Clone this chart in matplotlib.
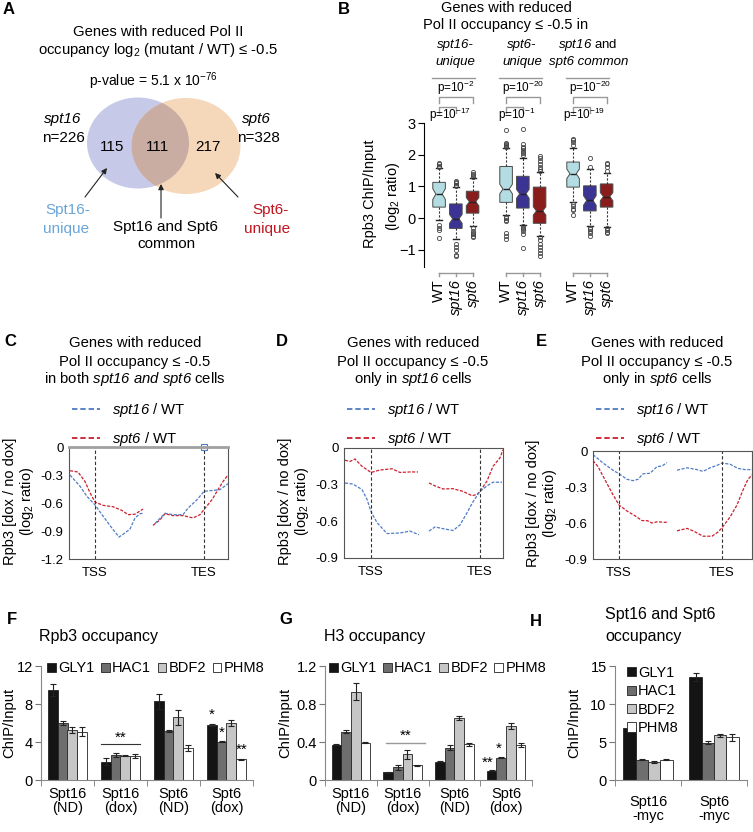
import numpy as np
import matplotlib
matplotlib.use('Agg')
import matplotlib.pyplot as plt
from matplotlib.patches import Ellipse, Patch
from matplotlib.lines import Line2D

plt.rcParams['font.family'] = 'Liberation Sans'
plt.rcParams['mathtext.fontset'] = 'custom'
plt.rcParams['mathtext.rm'] = 'Liberation Sans'
plt.rcParams['mathtext.it'] = 'Liberation Sans:italic'
# italic face under \mathsf so digits stay italic too
plt.rcParams['mathtext.sf'] = 'Liberation Sans:italic'
plt.rcParams['mathtext.bf'] = 'Liberation Sans:bold'
plt.rcParams['font.size'] = 10

W, H = 753, 832

# ---------------- data ----------------
# A: Venn
venn_names = ['spt16', 'spt6']
venn_totals = [226, 328]
venn_counts = [115, 111, 217]   # spt16-only, common, spt6-only
venn_pexp = -76

# B: boxplot stats, per group [WT, spt16, spt6]
box_groups = ['spt16-unique', 'spt6-unique', 'common']
box_strains = ['WT', 'spt16', 'spt6']
box_q1 = [[0.35, -0.32, 0.16], [0.50, 0.32, -0.16], [0.98, 0.23, 0.35]]
box_med = [[0.76, -0.02, 0.52], [0.92, 0.77, 0.23], [1.40, 0.56, 0.68]]
box_q3 = [[1.13, 0.45, 0.85], [1.63, 1.32, 0.98], [1.77, 1.02, 1.08]]
box_whislo = [[-0.07, -0.66, -0.26], [0.10, -0.20, -0.55], [0.50, -0.25, -0.28]]
box_whishi = [[1.58, 0.98, 1.26], [2.20, 1.90, 1.45], [2.22, 1.55, 1.42]]
box_notch = [[0.17, 0.14, 0.13], [0.15, 0.14, 0.13], [0.15, 0.15, 0.13]]
box_fliers = [
    [[1.62, 1.66, 1.70, 1.74, -0.21, -0.32, -0.37, -0.63],
     [1.02, 1.06, 1.10, 1.14, 1.18, -0.80, -0.90, -1.00, -1.15, -1.20],
     [1.30, 1.35, 1.40, 1.45, -0.30, -0.40, -0.45, -0.50, -0.55, -0.60]],
    [[2.24, 2.27, 2.30, 2.33, 2.36, 2.78, 0.05, 0.0, -0.05, -0.10, -0.45, -0.55, -0.65],
     [2.00, 2.05, 2.10, 2.15, 2.20, 2.25, 2.35, 2.80, -0.25, -0.30, -0.35, -0.40, -0.50, -0.95],
     [1.50, 1.55, 1.60, 1.70, 1.80, 1.90, 1.95, -0.60, -0.70, -0.80, -0.90, -1.00, -1.10, -1.20]],
    [[2.30, 2.40, 2.45, 2.50, 0.45, 0.40, 0.30, 0.25, 0.10],
     [1.60, 1.90, -0.30, -0.35, -0.40, -0.45, -0.55],
     [1.50, 1.60, 1.70, 1.75, -0.32, -0.38, -0.42, -0.48]],
]
box_p_wt_spt6 = [-2, -20, -20]
box_p_wt_spt16 = [-17, -1, -19]

# C-E: metagene profiles (bin position, log2 ratio), TSS segment and TES segment
C_spt16 = [[(1, -0.30), (11, -0.42), (18, -0.53), (26, -0.62), (34, -0.74), (43, -0.87), (50, -0.965),
            (56, -0.92), (61, -0.88), (66, -0.76), (71, -0.715), (74, -0.71)],
           [(86, -0.82), (96, -0.71), (104, -0.725), (114, -0.725), (119, -0.655), (128, -0.565),
            (135, -0.475), (144, -0.465), (151, -0.457), (159, -0.393)]]
C_spt6 = [[(1, -0.254), (9, -0.268), (16, -0.37), (21, -0.49), (26, -0.59), (34, -0.625), (44, -0.64),
           (53, -0.68), (59, -0.725), (66, -0.72), (74, -0.665)],
          [(84, -0.84), (91, -0.78), (96, -0.715), (104, -0.735), (114, -0.735), (124, -0.76), (131, -0.725),
           (135, -0.67), (143, -0.565), (149, -0.457), (154, -0.37), (159, -0.30)]]
D_spt16 = [[(1, -0.286), (9, -0.295), (18, -0.34), (23, -0.42), (27, -0.52), (33, -0.61), (43, -0.70),
            (56, -0.695), (66, -0.68), (75, -0.71)],
           [(85, -0.68), (91, -0.646), (99, -0.66), (109, -0.675), (116, -0.63), (123, -0.53), (129, -0.44),
            (136, -0.355), (143, -0.31), (149, -0.28), (158, -0.28)]]
D_spt6 = [[(1, -0.10), (6, -0.11), (11, -0.09), (18, -0.15), (27, -0.20), (36, -0.18), (48, -0.17),
           (56, -0.20), (66, -0.196), (74, -0.196)],
          [(85, -0.286), (91, -0.31), (99, -0.335), (109, -0.333), (119, -0.355), (128, -0.39), (133, -0.38),
           (136, -0.355), (143, -0.27), (149, -0.15), (156, -0.08), (159, -0.014)]]
E_spt16 = [[(0, -0.03), (10, -0.10), (20, -0.16), (26, -0.19), (34, -0.236), (40, -0.247), (45, -0.236),
            (50, -0.19), (57, -0.186), (64, -0.13), (69, -0.125), (74, -0.097)],
           [(84, -0.16), (94, -0.14), (104, -0.155), (110, -0.17), (117, -0.14), (124, -0.12), (129, -0.10),
            (137, -0.11), (145, -0.145), (152, -0.155), (159, -0.155)]]
E_spt6 = [[(0, -0.08), (5, -0.13), (12, -0.24), (19, -0.35), (26, -0.45), (34, -0.50), (42, -0.54),
           (49, -0.58), (54, -0.58), (59, -0.60), (64, -0.59), (74, -0.595)],
          [(84, -0.665), (94, -0.645), (100, -0.665), (110, -0.71), (119, -0.71), (125, -0.675), (129, -0.64),
           (137, -0.55), (144, -0.45), (150, -0.325), (155, -0.236), (159, -0.20)]]
tss_tes = {'C': (26, 135), 'D': (27, 136), 'E': (26, 129)}

# F-H: ChIP bar charts, rows = conditions, cols = genes
genes = ['GLY1', 'HAC1', 'BDF2', 'PHM8']
rpb3_cond = ['Spt16\n(ND)', 'Spt16\n(dox)', 'Spt6\n(ND)', 'Spt6\n(dox)']
rpb3_mean = [[9.47, 6.03, 5.26, 5.09], [1.93, 2.60, 2.56, 2.53], [8.30, 5.20, 6.60, 3.40], [5.79, 4.03, 6.03, 2.17]]
rpb3_err = [[0.60, 0.20, 0.35, 0.50], [0.40, 0.20, 0.05, 0.20], [0.80, 0.10, 0.80, 0.30], [0.10, 0.05, 0.30, 0.05]]
h3_cond = rpb3_cond
h3_mean = [[0.37, 0.51, 0.93, 0.39], [0.08, 0.133, 0.27, 0.154], [0.19, 0.34, 0.656, 0.375], [0.098, 0.235, 0.57, 0.365]]
h3_err = [[0.005, 0.02, 0.09, 0.005], [0.005, 0.03, 0.045, 0.005], [0.005, 0.025, 0.02, 0.015], [0.005, 0.005, 0.03, 0.02]]
myc_cond = ['Spt16\n-myc', 'Spt6\n-myc']
myc_mean = [[6.87, 2.67, 2.40, 2.67], [13.55, 4.90, 5.89, 5.60]]
myc_err = [[0.45, 0.05, 0.10, 0.05], [0.50, 0.20, 0.20, 0.50]]

# ---------------- styles ----------------
gene_colors = ['#141414', '#6e6e6e', '#c6c6c6', 'white']
bar_offsets = [-0.28, -0.093, 0.093, 0.28]
bar_w = 0.187
box_colors = ['#b3dde3', '#3c3494', '#8b1c1c']
c_blue = '#4f7cc4'
c_red = '#cc1f2e'

fig = plt.figure(figsize=(W / 100, H / 100), dpi=100)
ov = fig.add_axes([0, 0, 1, 1])
ov.set_xlim(0, W)
ov.set_ylim(H, 0)
ov.axis('off')


def add_ax(l, t, r, b):
    return fig.add_axes([l / W, 1 - b / H, (r - l) / W, (b - t) / H])


def txt(x, y, s, **kw):
    kw.setdefault('ha', 'center')
    kw.setdefault('va', 'center')
    ov.text(x, y, s, **kw)


# ---------------- A ----------------
txt(3, 10, 'A', ha='left', fontsize=12, fontweight='bold')
txt(158, 32, 'Genes with reduced Pol II', fontsize=10.7)
txt(158, 50, 'occupancy log$_2$ (mutant / WT) ≤ -0.5', fontsize=10.7)
txt(153, 81, 'p-value = 5.1 x 10$^{%d}$' % venn_pexp, fontsize=10)
left = Ellipse((138, 143), 102, 91, fc='#c6cae8', ec='none')
right = Ellipse((186, 146), 109, 96, fc='#f5d7ba', ec='none')
ov.add_patch(left)
ov.add_patch(right)
mid = Ellipse((186, 146), 109, 96, fc='#c9ada3', ec='none')
ov.add_patch(mid)
mid.set_clip_path(left)
txt(63, 119, venn_names[0], fontsize=11, style='italic')
txt(63, 138, 'n=%d' % venn_totals[0], fontsize=11)
txt(256, 119, venn_names[1], fontsize=11, style='italic')
txt(258, 138, 'n=%d' % venn_totals[1], fontsize=11)
for xc, n in zip([112, 158, 208], venn_counts):
    txt(xc, 147, str(n), fontsize=11)
arrow = dict(arrowstyle='-|>', color='#222', lw=0.8, mutation_scale=8, shrinkA=0, shrinkB=0)
ov.annotate('', xy=(107, 168), xytext=(85, 197), arrowprops=arrow)
ov.annotate('', xy=(161, 184), xytext=(161, 218), arrowprops=arrow)
ov.annotate('', xy=(215, 173), xytext=(238, 197), arrowprops=arrow)
txt(68, 210, 'Spt16-', fontsize=11, color='#6aa5d8')
txt(66, 229, 'unique', fontsize=11, color='#6aa5d8')
txt(270, 210, 'Spt6-', fontsize=11, color='#c0141e')
txt(267, 229, 'unique', fontsize=11, color='#c0141e')
txt(166, 227, 'Spt16 and Spt6', fontsize=11)
txt(166, 244, 'common', fontsize=11)

# ---------------- B ----------------
txt(338, 10, 'B', ha='left', fontsize=12, fontweight='bold')
txt(506, 8, 'Genes with reduced', fontsize=10.5)
txt(506, 25, 'Pol II occupancy ≤ -0.5 in', fontsize=10.5)
txt(455, 45, 'spt16-', fontsize=9.5, style='italic')
txt(455, 62, 'unique', fontsize=9.5, style='italic')
txt(522, 45, 'spt6-', fontsize=9.5, style='italic')
txt(522, 62, 'unique', fontsize=9.5, style='italic')
txt(588, 45, r'$\mathsf{spt16}$ and', fontsize=9.5)
txt(589, 62, 'spt6 common', fontsize=9.5, style='italic')
txt(370, 194, 'Rpb3 ChIP/Input', rotation=90, fontsize=10.5)
txt(393, 196, '(log$_2$ ratio)', rotation=90, fontsize=10.5)

axB = add_ax(424, 123, 620, 269)
stats = []
positions = []
for g in range(3):
    for i in range(3):
        m = box_med[g][i]
        stats.append(dict(med=m, q1=box_q1[g][i], q3=box_q3[g][i],
                          whislo=box_whislo[g][i], whishi=box_whishi[g][i],
                          fliers=np.array(box_fliers[g][i]),
                          cilo=m - box_notch[g][i], cihi=m + box_notch[g][i]))
        positions.append(g * 4 + i + 1)
bp = axB.bxp(stats, positions=positions, widths=0.75, shownotches=True, patch_artist=True,
             boxprops=dict(edgecolor='#4a4a4a', lw=0.7),
             whiskerprops=dict(ls=(0, (2, 1.5)), color='#333', lw=0.8),
             capprops=dict(color='#222', lw=1.0),
             medianprops=dict(color='#222', lw=1.0),
             flierprops=dict(marker='o', mfc='none', mec='#444', ms=3, mew=0.6),
             capwidths=0.35)
for k, patch in enumerate(bp['boxes']):
    patch.set_facecolor(box_colors[k % 3])
axB.set_xlim(0.1, 11.8)
axB.set_ylim(-1.6, 3.0)
axB.set_yticks([-1, 0, 1, 2, 3])
axB.set_xticks([])
for s in ['top', 'right', 'bottom']:
    axB.spines[s].set_visible(False)
axB.spines['left'].set_bounds(-1.55, 3.0)
axB.tick_params(axis='y', labelsize=10.5, length=4, pad=2)
for g in range(3):
    p0, p1, p2 = g * 4 + 1, g * 4 + 2, g * 4 + 3
    kw = dict(color='#999', lw=1, clip_on=False)
    axB.plot([p0 - 0.4, p2 + 0.15], [4.42, 4.42], **kw)
    axB.plot([p0, p0, p2, p2], [3.63, 3.82, 3.82, 3.63], **kw)
    axB.plot([p0, p0, p1, p1], [3.31, 3.50, 3.50, 3.31], **kw)
    axB.text(p1, 4.10, 'p=10$^{%d}$' % box_p_wt_spt6[g], ha='center', va='center', fontsize=8.5, clip_on=False)
    axB.text(p1 - 0.35, 3.26, 'p=10$^{%d}$' % box_p_wt_spt16[g], ha='center', va='center', fontsize=8.5,
             clip_on=False)
    axB.plot([p0, p2], [-1.72, -1.72], **kw)
    for p in (p0, p1, p2):
        axB.plot([p, p], [-1.72, -1.82], **kw)
    for p, s in zip((p0, p1, p2), box_strains):
        axB.text(p, -1.92, s, rotation=90, ha='center', va='top', fontsize=10.5,
                 style='normal' if s == 'WT' else 'italic', clip_on=False)


# ---------------- C-E ----------------
def profile(letter, box, spt16, spt6, ylo, yticks, ylab_x, lx, title3):
    l, t, r, b = box
    ax = add_ax(l, t, r, b)
    tss, tes = tss_tes[letter]
    for series, col in ((spt6, c_red), (spt16, c_blue)):
        for seg in series:
            xs = [p[0] for p in seg]
            ys = [p[1] for p in seg]
            ax.plot(xs, ys, color=col, lw=0.9, ls=(0, (2.5, 1.2)))
    ax.axvline(tss, color='#333', lw=0.8, ls=(0, (3, 2)))
    ax.axvline(tes, color='#333', lw=0.8, ls=(0, (3, 2)))
    ax.set_xlim(0, 159)
    ax.set_ylim(ylo, 0)
    ax.set_yticks(yticks)
    ax.set_yticklabels(['0' if v == 0 else '%.1f' % v for v in yticks])
    ax.set_xticks([tss, tes])
    ax.set_xticklabels(['TSS', 'TES'])
    ax.tick_params(length=0, labelsize=9.5)
    ax.tick_params(axis='x', pad=6)
    ax.tick_params(axis='y', pad=4)
    for s in ax.spines.values():
        s.set_color('#555')
        s.set_linewidth(0.8)
    txt(lx, 342, letter, ha='left', fontsize=12, fontweight='bold')
    tcx = {'C': 135, 'D': 413, 'E': 657}[letter]
    txt(tcx, 343, 'Genes with reduced', fontsize=10.7)
    txt(tcx, 362, 'Pol II occupancy ≤ -0.5', fontsize=10.7)
    txt(tcx, 379, title3, fontsize=10.7)
    txt(ylab_x, (t + b) / 2 - 2, 'Rpb3 [dox / no dox]', rotation=90, fontsize=10.5)
    txt(ylab_x + 17, (t + b) / 2 - 2, '(log$_2$ ratio)', rotation=90, fontsize=10.5)
    handles = [Line2D([], [], color=c_blue, lw=1.3, ls=(0, (3, 1.6))),
               Line2D([], [], color=c_red, lw=1.3, ls=(0, (3, 1.6)))]
    ax.legend(handles, [r'$\mathsf{spt16}$ / WT', r'$\mathsf{spt6}$ / WT'], loc='upper left',
              bbox_to_anchor=(l + 3, 401), bbox_transform=ov.transData, frameon=False,
              borderpad=0, borderaxespad=0, handlelength=1.9, handletextpad=0.8,
              labelspacing=0.75, fontsize=10.7)
    return ax


axC = profile('C', (69, 447, 228, 559), C_spt16, C_spt6, -1.2, [0, -0.3, -0.6, -0.9, -1.2], 10, 4,
              r'in both $\mathsf{spt16\ and\ spt6}$ cells')
axC.spines['top'].set_color('#a0a0a0')
axC.spines['top'].set_linewidth(2)
axC.plot([tss_tes['C'][1]], [0], marker='s', ms=4, mfc='none', mec=c_blue, mew=0.8, clip_on=False)
axD = profile('D', (344, 448, 503, 558), D_spt16, D_spt6, -0.9, [0, -0.3, -0.6, -0.9], 285, 276,
              r'only in $\mathsf{spt16}$ cells')
axE = profile('E', (593, 451, 752, 559), E_spt16, E_spt6, -0.9, [0, -0.3, -0.6, -0.9], 533, 536,
              r'only in $\mathsf{spt6}$ cells')


# ---------------- F-H ----------------
def bars(box, means, errs, conds, ylim, yticks, ylabels):
    l, t, r, b = box
    ax = add_ax(l, t, r, b)
    n = len(conds)
    for j, gname in enumerate(genes):
        x = np.arange(n) + 0.5 + bar_offsets[j]
        ax.bar(x, [m[j] for m in means], width=bar_w, yerr=[e[j] for e in errs],
               color=gene_colors[j], edgecolor='#222', lw=0.6, capsize=2.5,
               error_kw=dict(lw=0.8, capthick=0.8, ecolor='#222'))
    ax.set_xlim(0, n)
    ax.set_ylim(*ylim)
    ax.set_yticks(yticks)
    ax.set_yticklabels(ylabels)
    ax.set_xticks(np.arange(n) + 0.5)
    ax.set_xticklabels(conds, fontsize=10.5, linespacing=1.0)
    ax.set_xticks(np.arange(n + 1), minor=True)
    ax.tick_params(axis='x', which='major', length=0, pad=5)
    ax.tick_params(axis='x', which='minor', length=4, color='#777')
    ax.tick_params(axis='y', length=4, color='#777', labelsize=10.5, pad=2)
    for s in ['top', 'right']:
        ax.spines[s].set_visible(False)
    for s in ['left', 'bottom']:
        ax.spines[s].set_color('#888')
    return ax


def gene_handles():
    return [Patch(fc=c, ec='#222', lw=0.6) for c in gene_colors]


axF = bars((41, 666, 253, 780), rpb3_mean, rpb3_err, rpb3_cond, (0, 12), [0, 4, 8, 12], ['0', '4', '8', '12'])
axF.legend(gene_handles(), genes, ncol=4, loc='upper left', bbox_to_anchor=(0.03, 1.04), frameon=False,
           handlelength=0.6, handleheight=0.6, handletextpad=0.15, columnspacing=0.45,
           borderpad=0, borderaxespad=0, fontsize=10.5)
axF.plot([1.13, 1.87], [3.75, 3.75], color='#333', lw=0.8)
axF.text(1.5, 3.75, '**', ha='center', va='bottom', fontsize=11)
for j, s in [(0, '*'), (1, '*'), (3, '**')]:
    axF.text(3.5 + bar_offsets[j], rpb3_mean[3][j] + rpb3_err[3][j] + 0.2, s, ha='center', va='bottom',
             fontsize=11)
txt(7, 619, 'F', ha='left', fontsize=12, fontweight='bold')
txt(39, 637, 'Rpb3 occupancy', ha='left', fontsize=11.5)
txt(9, 723, 'ChIP/Input', rotation=90, fontsize=10.7)

axG = bars((325, 666, 532, 780), h3_mean, h3_err, h3_cond, (0, 1.2), [0, 0.4, 0.8, 1.2], ['0', '0.4', '0.8', '1.2'])
axG.legend(gene_handles(), genes, ncol=4, loc='upper left', bbox_to_anchor=(0.02, 1.04), frameon=False,
           handlelength=0.6, handleheight=0.6, handletextpad=0.15, columnspacing=0.45,
           borderpad=0, borderaxespad=0, fontsize=10.5)
axG.plot([1.17, 1.94], [0.39, 0.39], color='#999', lw=1)
axG.text(1.55, 0.39, '**', ha='center', va='bottom', fontsize=11)
axG.text(3.5 + bar_offsets[0] - 0.08, h3_mean[3][0] + h3_err[3][0] + 0.005, '**', ha='center', va='bottom',
         fontsize=11)
axG.text(3.5 + bar_offsets[1] - 0.05, h3_mean[3][1] + h3_err[3][1] + 0.01, '*', ha='center', va='bottom',
         fontsize=11)
txt(279, 619, 'G', ha='left', fontsize=12, fontweight='bold')
txt(324, 637, 'H3 occupancy', ha='left', fontsize=11.5)
txt(285, 723, 'ChIP/Input', rotation=90, fontsize=10.7)

axH = bars((615, 666, 747, 780), myc_mean, myc_err, myc_cond, (0, 15), [0, 5, 10, 15], ['0', '5', '10', '15'])
axH.tick_params(axis='x', which='major', pad=11)
axH.legend(gene_handles(), genes, ncol=1, loc='upper left', bbox_to_anchor=(0.09, 1.0), frameon=False,
           handlelength=0.6, handleheight=0.6, handletextpad=0.15, labelspacing=0.3,
           borderpad=0, borderaxespad=0, fontsize=10.5)
txt(530, 622, 'H', ha='left', fontsize=12, fontweight='bold')
txt(605, 615, 'Spt16 and Spt6', ha='left', fontsize=11.5)
txt(605, 637, 'occupancy', ha='left', fontsize=11.5)
txt(574, 723, 'ChIP/Input', rotation=90, fontsize=10.7)

fig.savefig('out.png', dpi=100)
